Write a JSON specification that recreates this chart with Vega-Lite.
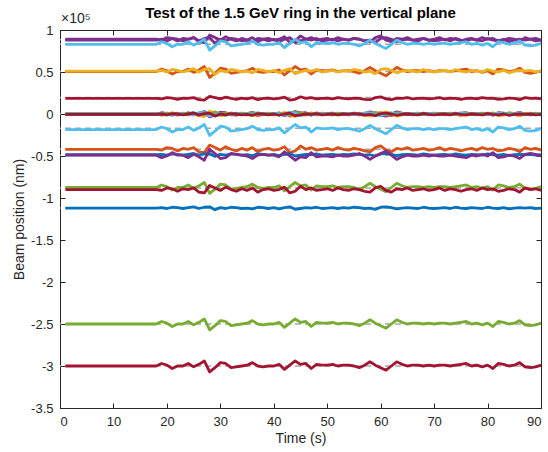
{
"$schema": "https://vega.github.io/schema/vega-lite/v6.json",
"width": 481, "height": 378,
"autosize": "none",
"padding": {"left": 60, "top": 30, "right": 7, "bottom": 44},
"title": {"text": "Test of the 1.5 GeV ring in the vertical plane", "fontSize": 15, "fontWeight": "bold", "font": "Liberation Sans", "color": "#000000", "offset": -9, "anchor": "middle"},
"config": {
  "font": "Liberation Sans",
  "view": {"stroke": "#262626", "strokeWidth": 1},
  "axis": {"domainColor": "#262626", "tickColor": "#262626", "labelColor": "#262626", "titleColor": "#262626", "labelFont": "Liberation Sans", "titleFont": "Liberation Sans", "labelFontSize": 13, "titleFontSize": 14, "titleFontWeight": "normal", "grid": false, "tickSize": -5, "labelPadding": 12}
},
"datasets": {
"pos": [
{"x":1,"a":89,"b":88,"c":83,"d":51,"e":50.5,"f":18.5,"g":0,"h":-0.5,"i":0,"j":0,"k":0.5,"l":0,"m":-0.5,"n":-18.5,"o":-42,"p":-48.5,"q":-49,"r":-87.5,"s":-90,"t":-112,"u":-250,"v":-300},
{"x":6,"a":89,"b":88,"c":83,"d":51,"e":50.5,"f":18.5,"g":0,"h":-0.5,"i":0,"j":0,"k":0.5,"l":0,"m":-0.5,"n":-18.5,"o":-42,"p":-48.5,"q":-49,"r":-87.5,"s":-90,"t":-112,"u":-250,"v":-300},
{"x":12,"a":89,"b":88,"c":83,"d":51,"e":50.5,"f":18.5,"g":0,"h":-0.5,"i":0,"j":0,"k":0.5,"l":0,"m":-0.5,"n":-18.5,"o":-42,"p":-48.5,"q":-49,"r":-87.5,"s":-90,"t":-112,"u":-250,"v":-300},
{"x":18,"a":89,"b":88,"c":83,"d":51,"e":50.5,"f":18.5,"g":0,"h":-0.5,"i":0,"j":0,"k":0.5,"l":0,"m":-0.5,"n":-18.5,"o":-42,"p":-48.5,"q":-49,"r":-87.5,"s":-90,"t":-112,"u":-250,"v":-300},
{"x":19,"a":88,"b":89,"c":86,"d":52,"e":53.5,"f":18,"g":0.5,"h":-1,"i":-1.5,"j":1.5,"k":0,"l":0.5,"m":0,"n":-15.5,"o":-43,"p":-48,"q":-52,"r":-84.5,"s":-91,"t":-111.5,"u":-247,"v":-297},
{"x":20,"a":91,"b":87,"c":84,"d":50,"e":51.5,"f":19.5,"g":-0.5,"h":0.5,"i":-0.5,"j":0.5,"k":1,"l":-1,"m":-1,"n":-17.5,"o":-40,"p":-49,"q":-50,"r":-86.5,"s":-88,"t":-112.5,"u":-249,"v":-299},
{"x":21,"a":90,"b":90,"c":80,"d":53,"e":47.5,"f":19,"g":1,"h":0,"i":1.5,"j":-1.5,"k":-0.5,"l":-0.5,"m":0.5,"n":-21.5,"o":-41,"p":-47.5,"q":-46,"r":-90.5,"s":-89,"t":-111,"u":-253,"v":-303},
{"x":22,"a":87,"b":89,"c":83,"d":52,"e":50.5,"f":17.5,"g":0.5,"h":-1.5,"i":0,"j":0,"k":0,"l":1,"m":0,"n":-18.5,"o":-44,"p":-48,"q":-49,"r":-87.5,"s":-92,"t":-111.5,"u":-250,"v":-300},
{"x":23,"a":90,"b":87,"c":83,"d":50,"e":50.5,"f":19,"g":-0.5,"h":0,"i":0,"j":0,"k":1,"l":-0.5,"m":-1,"n":-18.5,"o":-41,"p":-49,"q":-49,"r":-87.5,"s":-89,"t":-112.5,"u":-250,"v":-300},
{"x":24,"a":89,"b":89,"c":86,"d":52,"e":53.5,"f":18.5,"g":0.5,"h":-0.5,"i":-1.5,"j":1.5,"k":0,"l":0,"m":0,"n":-15.5,"o":-42,"p":-48,"q":-52,"r":-84.5,"s":-90,"t":-111.5,"u":-247,"v":-297},
{"x":25,"a":91,"b":91,"c":82,"d":54,"e":49.5,"f":19.5,"g":1.5,"h":0.5,"i":0.5,"j":-0.5,"k":-1,"l":-1,"m":1,"n":-19.5,"o":-40,"p":-47,"q":-48,"r":-88.5,"s":-88,"t":-110.5,"u":-251,"v":-301},
{"x":26,"a":86,"b":87,"c":85,"d":50,"e":52.5,"f":17,"g":-0.5,"h":-2,"i":-1,"j":1,"k":1,"l":1.5,"m":-1,"n":-16.5,"o":-45,"p":-49,"q":-51,"r":-85.5,"s":-93,"t":-112.5,"u":-248,"v":-298},
{"x":27,"a":85,"b":90,"c":89,"d":53,"e":56.5,"f":16.5,"g":1,"h":-2.5,"i":-3,"j":3,"k":-0.5,"l":2,"m":0.5,"n":-12.5,"o":-46,"p":-47.5,"q":-55,"r":-81.5,"s":-94,"t":-111,"u":-244,"v":-294},
{"x":28,"a":94,"b":91,"c":76,"d":54,"e":43.5,"f":21,"g":1.5,"h":2,"i":3.5,"j":-3.5,"k":-1,"l":-2.5,"m":1,"n":-25.5,"o":-37,"p":-47,"q":-42,"r":-94.5,"s":-85,"t":-110.5,"u":-257,"v":-307},
{"x":29,"a":91,"b":84,"c":81,"d":47,"e":48.5,"f":19.5,"g":-2,"h":0.5,"i":1,"j":-1,"k":2.5,"l":-1,"m":-2.5,"n":-20.5,"o":-40,"p":-50.5,"q":-47,"r":-89.5,"s":-88,"t":-114,"u":-252,"v":-302},
{"x":30,"a":88,"b":89,"c":87,"d":52,"e":54.5,"f":18,"g":0.5,"h":-1,"i":-2,"j":2,"k":0,"l":0.5,"m":0,"n":-14.5,"o":-43,"p":-48,"q":-53,"r":-83.5,"s":-91,"t":-111.5,"u":-246,"v":-296},
{"x":31,"a":92,"b":87,"c":86,"d":50,"e":53.5,"f":20,"g":-0.5,"h":1,"i":-1.5,"j":1.5,"k":1,"l":-1.5,"m":-1,"n":-15.5,"o":-39,"p":-49,"q":-52,"r":-84.5,"s":-87,"t":-112.5,"u":-247,"v":-297},
{"x":32,"a":89,"b":90,"c":81,"d":53,"e":48.5,"f":18.5,"g":1,"h":-0.5,"i":1,"j":-1,"k":-0.5,"l":0,"m":0.5,"n":-20.5,"o":-42,"p":-47.5,"q":-47,"r":-89.5,"s":-90,"t":-111,"u":-252,"v":-302},
{"x":33,"a":87,"b":89,"c":82,"d":52,"e":49.5,"f":17.5,"g":0.5,"h":-1.5,"i":0.5,"j":-0.5,"k":0,"l":1,"m":0,"n":-19.5,"o":-44,"p":-48,"q":-48,"r":-88.5,"s":-92,"t":-111.5,"u":-251,"v":-301},
{"x":34,"a":90,"b":87,"c":83,"d":50,"e":50.5,"f":19,"g":-0.5,"h":0,"i":0,"j":0,"k":1,"l":-0.5,"m":-1,"n":-18.5,"o":-41,"p":-49,"q":-49,"r":-87.5,"s":-89,"t":-112.5,"u":-250,"v":-300},
{"x":35,"a":88,"b":88,"c":84,"d":51,"e":51.5,"f":18,"g":0,"h":-1,"i":-0.5,"j":0.5,"k":0.5,"l":0.5,"m":-0.5,"n":-17.5,"o":-43,"p":-48.5,"q":-50,"r":-86.5,"s":-91,"t":-112,"u":-249,"v":-299},
{"x":36,"a":91,"b":86,"c":87,"d":49,"e":54.5,"f":19.5,"g":-1,"h":0.5,"i":-2,"j":2,"k":1.5,"l":-1,"m":-1.5,"n":-14.5,"o":-40,"p":-49.5,"q":-53,"r":-83.5,"s":-88,"t":-113,"u":-246,"v":-296},
{"x":37,"a":86,"b":90,"c":83,"d":53,"e":50.5,"f":17,"g":1,"h":-2,"i":0,"j":0,"k":-0.5,"l":1.5,"m":0.5,"n":-18.5,"o":-45,"p":-47.5,"q":-49,"r":-87.5,"s":-93,"t":-111,"u":-250,"v":-300},
{"x":38,"a":89,"b":89,"c":82,"d":52,"e":49.5,"f":18.5,"g":0.5,"h":-0.5,"i":0.5,"j":-0.5,"k":0,"l":0,"m":0,"n":-19.5,"o":-42,"p":-48,"q":-48,"r":-88.5,"s":-90,"t":-111.5,"u":-251,"v":-301},
{"x":39,"a":90,"b":87,"c":83,"d":50,"e":50.5,"f":19,"g":-0.5,"h":0,"i":0,"j":0,"k":1,"l":-0.5,"m":-1,"n":-18.5,"o":-41,"p":-49,"q":-49,"r":-87.5,"s":-89,"t":-112.5,"u":-250,"v":-300},
{"x":40,"a":88,"b":89,"c":83,"d":52,"e":50.5,"f":18,"g":0.5,"h":-1,"i":0,"j":0,"k":0,"l":0.5,"m":0,"n":-18.5,"o":-43,"p":-48,"q":-49,"r":-87.5,"s":-91,"t":-111.5,"u":-250,"v":-300},
{"x":41,"a":89,"b":86,"c":85,"d":49,"e":52.5,"f":18.5,"g":-1,"h":-0.5,"i":-1,"j":1,"k":1.5,"l":0,"m":-1.5,"n":-16.5,"o":-42,"p":-49.5,"q":-51,"r":-85.5,"s":-90,"t":-113,"u":-248,"v":-298},
{"x":42,"a":92,"b":89,"c":79,"d":52,"e":46.5,"f":20,"g":0.5,"h":1,"i":2,"j":-2,"k":0,"l":-1.5,"m":0,"n":-22.5,"o":-39,"p":-48,"q":-45,"r":-91.5,"s":-87,"t":-111.5,"u":-254,"v":-304},
{"x":43,"a":85,"b":91,"c":84,"d":54,"e":51.5,"f":16.5,"g":1.5,"h":-2.5,"i":-0.5,"j":0.5,"k":-1,"l":2,"m":1,"n":-17.5,"o":-46,"p":-47,"q":-50,"r":-86.5,"s":-94,"t":-110.5,"u":-249,"v":-299},
{"x":44,"a":87,"b":85,"c":89,"d":48,"e":56.5,"f":17.5,"g":-1.5,"h":-1.5,"i":-3,"j":3,"k":2,"l":1,"m":-2,"n":-12.5,"o":-44,"p":-50,"q":-55,"r":-81.5,"s":-92,"t":-113.5,"u":-244,"v":-294},
{"x":45,"a":93,"b":87,"c":85,"d":50,"e":52.5,"f":20.5,"g":-0.5,"h":1.5,"i":-1,"j":1,"k":1,"l":-2,"m":-1,"n":-16.5,"o":-38,"p":-49,"q":-51,"r":-85.5,"s":-86,"t":-112.5,"u":-248,"v":-298},
{"x":46,"a":89,"b":89,"c":86,"d":52,"e":53.5,"f":18.5,"g":0.5,"h":-0.5,"i":-1.5,"j":1.5,"k":0,"l":0,"m":0,"n":-15.5,"o":-42,"p":-48,"q":-52,"r":-84.5,"s":-90,"t":-111.5,"u":-247,"v":-297},
{"x":47,"a":91,"b":88,"c":80,"d":51,"e":47.5,"f":19.5,"g":0,"h":0.5,"i":1.5,"j":-1.5,"k":0.5,"l":-1,"m":-0.5,"n":-21.5,"o":-40,"p":-48.5,"q":-46,"r":-90.5,"s":-88,"t":-112,"u":-253,"v":-303},
{"x":48,"a":88,"b":90,"c":85,"d":53,"e":52.5,"f":18,"g":1,"h":-1,"i":-1,"j":1,"k":-0.5,"l":0.5,"m":0.5,"n":-16.5,"o":-43,"p":-47.5,"q":-51,"r":-85.5,"s":-91,"t":-111,"u":-248,"v":-298},
{"x":49,"a":89,"b":87,"c":84,"d":50,"e":51.5,"f":18.5,"g":-0.5,"h":-0.5,"i":-0.5,"j":0.5,"k":1,"l":0,"m":-1,"n":-17.5,"o":-42,"p":-49,"q":-50,"r":-86.5,"s":-90,"t":-112.5,"u":-249,"v":-299},
{"x":50,"a":90,"b":88,"c":84,"d":51,"e":51.5,"f":19,"g":0,"h":0,"i":-0.5,"j":0.5,"k":0.5,"l":-0.5,"m":-0.5,"n":-17.5,"o":-41,"p":-48.5,"q":-50,"r":-86.5,"s":-89,"t":-112,"u":-249,"v":-299},
{"x":51,"a":88,"b":89,"c":85,"d":52,"e":52.5,"f":18,"g":0.5,"h":-1,"i":-1,"j":1,"k":0,"l":0.5,"m":0,"n":-16.5,"o":-43,"p":-48,"q":-51,"r":-85.5,"s":-91,"t":-111.5,"u":-248,"v":-298},
{"x":52,"a":91,"b":87,"c":83,"d":50,"e":50.5,"f":19.5,"g":-0.5,"h":0.5,"i":0,"j":0,"k":1,"l":-1,"m":-1,"n":-18.5,"o":-40,"p":-49,"q":-49,"r":-87.5,"s":-88,"t":-112.5,"u":-250,"v":-300},
{"x":53,"a":89,"b":89,"c":84,"d":52,"e":51.5,"f":18.5,"g":0.5,"h":-0.5,"i":-0.5,"j":0.5,"k":0,"l":0,"m":0,"n":-17.5,"o":-42,"p":-48,"q":-50,"r":-86.5,"s":-90,"t":-111.5,"u":-249,"v":-299},
{"x":54,"a":88,"b":88,"c":84,"d":51,"e":51.5,"f":18,"g":0,"h":-1,"i":-0.5,"j":0.5,"k":0.5,"l":0.5,"m":-0.5,"n":-17.5,"o":-43,"p":-48.5,"q":-50,"r":-86.5,"s":-91,"t":-112,"u":-249,"v":-299},
{"x":55,"a":90,"b":90,"c":83,"d":53,"e":50.5,"f":19,"g":1,"h":0,"i":0,"j":0,"k":-0.5,"l":-0.5,"m":0.5,"n":-18.5,"o":-41,"p":-47.5,"q":-49,"r":-87.5,"s":-89,"t":-111,"u":-250,"v":-300},
{"x":56,"a":89,"b":89,"c":81,"d":52,"e":48.5,"f":18.5,"g":0.5,"h":-0.5,"i":1,"j":-1,"k":0,"l":0,"m":0,"n":-20.5,"o":-42,"p":-48,"q":-47,"r":-89.5,"s":-90,"t":-111.5,"u":-252,"v":-302},
{"x":57,"a":87,"b":87,"c":84,"d":50,"e":51.5,"f":17.5,"g":-0.5,"h":-1.5,"i":-0.5,"j":0.5,"k":1,"l":1,"m":-1,"n":-17.5,"o":-44,"p":-49,"q":-50,"r":-86.5,"s":-92,"t":-112.5,"u":-249,"v":-299},
{"x":58,"a":86,"b":88,"c":88,"d":51,"e":55.5,"f":17,"g":0,"h":-2,"i":-2.5,"j":2.5,"k":0.5,"l":1.5,"m":-0.5,"n":-13.5,"o":-45,"p":-48.5,"q":-54,"r":-82.5,"s":-93,"t":-112,"u":-245,"v":-295},
{"x":59,"a":91,"b":85,"c":84,"d":48,"e":51.5,"f":19.5,"g":-1.5,"h":0.5,"i":-0.5,"j":0.5,"k":2,"l":-1,"m":-2,"n":-17.5,"o":-40,"p":-50,"q":-50,"r":-86.5,"s":-88,"t":-113.5,"u":-249,"v":-299},
{"x":60,"a":93,"b":90,"c":81,"d":53,"e":48.5,"f":20.5,"g":1,"h":1.5,"i":1,"j":-1,"k":-0.5,"l":-2,"m":0.5,"n":-20.5,"o":-38,"p":-47.5,"q":-47,"r":-89.5,"s":-86,"t":-111,"u":-252,"v":-302},
{"x":61,"a":88,"b":91,"c":78,"d":54,"e":45.5,"f":18,"g":1.5,"h":-1,"i":2.5,"j":-2.5,"k":-1,"l":0.5,"m":1,"n":-23.5,"o":-43,"p":-47,"q":-44,"r":-92.5,"s":-91,"t":-110.5,"u":-255,"v":-305},
{"x":62,"a":86,"b":89,"c":83,"d":52,"e":50.5,"f":17,"g":0.5,"h":-2,"i":0,"j":0,"k":0,"l":1.5,"m":0,"n":-18.5,"o":-45,"p":-48,"q":-49,"r":-87.5,"s":-93,"t":-111.5,"u":-250,"v":-300},
{"x":63,"a":90,"b":86,"c":88,"d":49,"e":55.5,"f":19,"g":-1,"h":0,"i":-2.5,"j":2.5,"k":1.5,"l":-0.5,"m":-1.5,"n":-13.5,"o":-41,"p":-49.5,"q":-54,"r":-82.5,"s":-89,"t":-113,"u":-245,"v":-295},
{"x":64,"a":89,"b":88,"c":85,"d":51,"e":52.5,"f":18.5,"g":0,"h":-0.5,"i":-1,"j":1,"k":0.5,"l":0,"m":-0.5,"n":-16.5,"o":-42,"p":-48.5,"q":-51,"r":-85.5,"s":-90,"t":-112,"u":-248,"v":-298},
{"x":65,"a":91,"b":89,"c":83,"d":52,"e":50.5,"f":19.5,"g":0.5,"h":0.5,"i":0,"j":0,"k":0,"l":-1,"m":0,"n":-18.5,"o":-40,"p":-48,"q":-49,"r":-87.5,"s":-88,"t":-111.5,"u":-250,"v":-300},
{"x":66,"a":88,"b":88,"c":84,"d":51,"e":51.5,"f":18,"g":0,"h":-1,"i":-0.5,"j":0.5,"k":0.5,"l":0.5,"m":-0.5,"n":-17.5,"o":-43,"p":-48.5,"q":-50,"r":-86.5,"s":-91,"t":-112,"u":-249,"v":-299},
{"x":67,"a":89,"b":87,"c":84,"d":50,"e":51.5,"f":18.5,"g":-0.5,"h":-0.5,"i":-0.5,"j":0.5,"k":1,"l":0,"m":-1,"n":-17.5,"o":-42,"p":-49,"q":-50,"r":-86.5,"s":-90,"t":-112.5,"u":-249,"v":-299},
{"x":68,"a":90,"b":90,"c":83,"d":53,"e":50.5,"f":19,"g":1,"h":0,"i":0,"j":0,"k":-0.5,"l":-0.5,"m":0.5,"n":-18.5,"o":-41,"p":-47.5,"q":-49,"r":-87.5,"s":-89,"t":-111,"u":-250,"v":-300},
{"x":69,"a":88,"b":88,"c":84,"d":51,"e":51.5,"f":18,"g":0,"h":-1,"i":-0.5,"j":0.5,"k":0.5,"l":0.5,"m":-0.5,"n":-17.5,"o":-43,"p":-48.5,"q":-50,"r":-86.5,"s":-91,"t":-112,"u":-249,"v":-299},
{"x":70,"a":89,"b":87,"c":83,"d":50,"e":50.5,"f":18.5,"g":-0.5,"h":-0.5,"i":0,"j":0,"k":1,"l":0,"m":-1,"n":-18.5,"o":-42,"p":-49,"q":-49,"r":-87.5,"s":-90,"t":-112.5,"u":-250,"v":-300},
{"x":71,"a":91,"b":88,"c":84,"d":51,"e":51.5,"f":19.5,"g":0,"h":0.5,"i":-0.5,"j":0.5,"k":0.5,"l":-1,"m":-0.5,"n":-17.5,"o":-40,"p":-48.5,"q":-50,"r":-86.5,"s":-88,"t":-112,"u":-249,"v":-299},
{"x":72,"a":88,"b":89,"c":84,"d":52,"e":51.5,"f":18,"g":0.5,"h":-1,"i":-0.5,"j":0.5,"k":0,"l":0.5,"m":0,"n":-17.5,"o":-43,"p":-48,"q":-50,"r":-86.5,"s":-91,"t":-111.5,"u":-249,"v":-299},
{"x":73,"a":90,"b":87,"c":83,"d":50,"e":50.5,"f":19,"g":-0.5,"h":0,"i":0,"j":0,"k":1,"l":-0.5,"m":-1,"n":-18.5,"o":-41,"p":-49,"q":-49,"r":-87.5,"s":-89,"t":-112.5,"u":-250,"v":-300},
{"x":74,"a":89,"b":90,"c":84,"d":53,"e":51.5,"f":18.5,"g":1,"h":-0.5,"i":-0.5,"j":0.5,"k":-0.5,"l":0,"m":0.5,"n":-17.5,"o":-42,"p":-47.5,"q":-50,"r":-86.5,"s":-90,"t":-111,"u":-249,"v":-299},
{"x":75,"a":87,"b":88,"c":85,"d":51,"e":52.5,"f":17.5,"g":0,"h":-1.5,"i":-1,"j":1,"k":0.5,"l":1,"m":-0.5,"n":-16.5,"o":-44,"p":-48.5,"q":-51,"r":-85.5,"s":-92,"t":-112,"u":-248,"v":-298},
{"x":76,"a":89,"b":87,"c":86,"d":50,"e":53.5,"f":18.5,"g":-0.5,"h":-0.5,"i":-1.5,"j":1.5,"k":1,"l":0,"m":-1,"n":-15.5,"o":-42,"p":-49,"q":-52,"r":-84.5,"s":-90,"t":-112.5,"u":-247,"v":-297},
{"x":77,"a":90,"b":89,"c":83,"d":52,"e":50.5,"f":19,"g":0.5,"h":0,"i":0,"j":0,"k":0,"l":-0.5,"m":0,"n":-18.5,"o":-41,"p":-48,"q":-49,"r":-87.5,"s":-89,"t":-111.5,"u":-250,"v":-300},
{"x":78,"a":88,"b":88,"c":84,"d":51,"e":51.5,"f":18,"g":0,"h":-1,"i":-0.5,"j":0.5,"k":0.5,"l":0.5,"m":-0.5,"n":-17.5,"o":-43,"p":-48.5,"q":-50,"r":-86.5,"s":-91,"t":-112,"u":-249,"v":-299},
{"x":79,"a":91,"b":87,"c":82,"d":50,"e":49.5,"f":19.5,"g":-0.5,"h":0.5,"i":0.5,"j":-0.5,"k":1,"l":-1,"m":-1,"n":-19.5,"o":-40,"p":-49,"q":-48,"r":-88.5,"s":-88,"t":-112.5,"u":-251,"v":-301},
{"x":80,"a":89,"b":90,"c":84,"d":53,"e":51.5,"f":18.5,"g":1,"h":-0.5,"i":-0.5,"j":0.5,"k":-0.5,"l":0,"m":0.5,"n":-17.5,"o":-42,"p":-47.5,"q":-50,"r":-86.5,"s":-90,"t":-111,"u":-249,"v":-299},
{"x":81,"a":90,"b":88,"c":80,"d":51,"e":47.5,"f":19,"g":0,"h":0,"i":1.5,"j":-1.5,"k":0.5,"l":-0.5,"m":-0.5,"n":-21.5,"o":-41,"p":-48.5,"q":-46,"r":-90.5,"s":-89,"t":-112,"u":-253,"v":-303},
{"x":82,"a":87,"b":87,"c":86,"d":50,"e":53.5,"f":17.5,"g":-0.5,"h":-1.5,"i":-1.5,"j":1.5,"k":1,"l":1,"m":-1,"n":-15.5,"o":-44,"p":-49,"q":-52,"r":-84.5,"s":-92,"t":-112.5,"u":-247,"v":-297},
{"x":83,"a":88,"b":89,"c":85,"d":52,"e":52.5,"f":18,"g":0.5,"h":-1,"i":-1,"j":1,"k":0,"l":0.5,"m":0,"n":-16.5,"o":-43,"p":-48,"q":-51,"r":-85.5,"s":-91,"t":-111.5,"u":-248,"v":-298},
{"x":84,"a":90,"b":86,"c":83,"d":49,"e":50.5,"f":19,"g":-1,"h":0,"i":0,"j":0,"k":1.5,"l":-0.5,"m":-1.5,"n":-18.5,"o":-41,"p":-49.5,"q":-49,"r":-87.5,"s":-89,"t":-113,"u":-250,"v":-300},
{"x":85,"a":89,"b":88,"c":84,"d":51,"e":51.5,"f":18.5,"g":0,"h":-0.5,"i":-0.5,"j":0.5,"k":0.5,"l":0,"m":-0.5,"n":-17.5,"o":-42,"p":-48.5,"q":-50,"r":-86.5,"s":-90,"t":-112,"u":-249,"v":-299},
{"x":86,"a":86,"b":89,"c":87,"d":52,"e":54.5,"f":17,"g":0.5,"h":-2,"i":-2,"j":2,"k":0,"l":1.5,"m":0,"n":-14.5,"o":-45,"p":-48,"q":-53,"r":-83.5,"s":-93,"t":-111.5,"u":-246,"v":-296},
{"x":87,"a":91,"b":88,"c":82,"d":51,"e":49.5,"f":19.5,"g":0,"h":0.5,"i":0.5,"j":-0.5,"k":0.5,"l":-1,"m":-0.5,"n":-19.5,"o":-40,"p":-48.5,"q":-48,"r":-88.5,"s":-88,"t":-112,"u":-251,"v":-301},
{"x":88,"a":89,"b":89,"c":81,"d":52,"e":48.5,"f":18.5,"g":0.5,"h":-0.5,"i":1,"j":-1,"k":0,"l":0,"m":0,"n":-20.5,"o":-42,"p":-48,"q":-47,"r":-89.5,"s":-90,"t":-111.5,"u":-252,"v":-302},
{"x":89,"a":90,"b":87,"c":82,"d":50,"e":49.5,"f":19,"g":-0.5,"h":0,"i":0.5,"j":-0.5,"k":1,"l":-0.5,"m":-1,"n":-19.5,"o":-41,"p":-49,"q":-48,"r":-88.5,"s":-89,"t":-112.5,"u":-251,"v":-301},
{"x":90,"a":88,"b":88,"c":84,"d":51,"e":51.5,"f":18,"g":0,"h":-1,"i":-0.5,"j":0.5,"k":0.5,"l":0.5,"m":-0.5,"n":-17.5,"o":-43,"p":-48.5,"q":-50,"r":-86.5,"s":-91,"t":-112,"u":-249,"v":-299}
],
"ref": [{"r":88.5},{"r":83},{"r":50.5},{"r":19.5},{"r":0},{"r":-17},{"r":-42},{"r":-49},{"r":-88},{"r":-112},{"r":-250},{"r":-300}]
},
"layer": [
  {
    "data": {"name": "ref"},
    "mark": {"type": "rule", "color": "#a6a6a6", "strokeWidth": 1.5, "strokeDash": [6, 4]},
    "encoding": {
      "y": {"field": "r", "type": "quantitative", "scale": {"domain": [-350, 100], "nice": false, "zero": false}, "axis": null}
    }
  },
  {
    "data": {"name": "pos"},
    "transform": [{"fold": ["a","b","c","e","d","f","g","h","i","j","k","l","m","n","o","p","q","r","s","t","u","v"], "as": ["series", "val"]}],
    "mark": {"type": "line", "strokeWidth": 2.8, "strokeJoin": "round"},
    "encoding": {
      "x": {"field": "x", "type": "quantitative", "scale": {"domain": [0, 90], "nice": false, "zero": false}, "axis": {"values": [0,10,20,30,40,50,60,70,80,90], "title": "Time (s)", "titlePadding": 3}},
      "y": {"field": "val", "type": "quantitative", "scale": {"domain": [-350, 100], "nice": false, "zero": false}, "axis": {"values": [-350,-300,-250,-200,-150,-100,-50,0,50,100], "labelExpr": "datum.value / 100", "title": "Beam position (nm)", "titlePadding": 4}},
      "color": {"field": "series", "type": "nominal", "legend": null, "scale": {
        "domain": ["a","b","c","d","e","f","g","h","i","j","k","l","m","n","o","p","q","r","s","t","u","v"],
        "range": ["#7E2F8E","#7E2F8E","#4DBEEE","#EDB120","#D95319","#A2142F","#0072BD","#D95319","#EDB120","#7E2F8E","#77AC30","#4DBEEE","#A2142F","#4DBEEE","#D95319","#0072BD","#7E2F8E","#77AC30","#A2142F","#0072BD","#77AC30","#A2142F"]}}
    }
  },
  {
    "data": {"values": [{"label": "×10⁵"}]},
    "mark": {"type": "text", "align": "left", "baseline": "bottom", "dx": 1, "dy": -4, "fontSize": 14, "color": "#262626", "font": "Liberation Sans"},
    "encoding": {
      "text": {"field": "label"},
      "x": {"datum": 0, "type": "quantitative", "scale": {"domain": [0, 90], "nice": false, "zero": false}, "axis": {"orient": "top", "values": [0,10,20,30,40,50,60,70,80,90], "labels": false, "title": null}},
      "y": {"datum": 100, "type": "quantitative", "scale": {"domain": [-350, 100], "nice": false, "zero": false}, "axis": {"orient": "right", "values": [-350,-300,-250,-200,-150,-100,-50,0,50,100], "labels": false, "title": null}}
    }
  }
],
"resolve": {"axis": {"x": "independent", "y": "independent"}}
}
